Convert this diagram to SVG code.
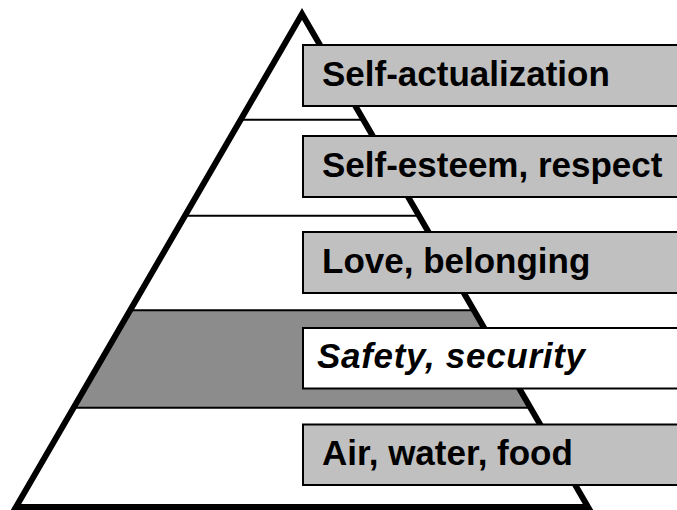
<svg xmlns="http://www.w3.org/2000/svg" width="677" height="510" viewBox="0 0 677 510">
<style>
.bg{fill:#ffffff}
.band{fill:#8c8c8c;stroke:none}
.div{stroke:#000;stroke-width:2;fill:none}
.tri{fill:none;stroke:#000;stroke-width:6;stroke-linejoin:miter;stroke-miterlimit:10}
.box{fill:#c0c0c0;stroke:#000;stroke-width:2}
.box.white{fill:#ffffff}
.lbl{font-family:"Liberation Sans",Arial,sans-serif;font-weight:bold;font-size:35px;fill:#000}
.it{font-style:italic}
</style>
<rect class="bg" x="0" y="0" width="677" height="510"/>
<g id="pyramid">
<polygon class="band" points="130.1,310.3 473.9,310.3 530.4,407.7 73.6,407.7"/>
<line class="div" x1="240.6" y1="119.7" x2="363.4" y2="119.7"/>
<line class="div" x1="185" y1="215.7" x2="419" y2="215.7"/>
<line class="div" x1="130.1" y1="310.3" x2="473.9" y2="310.3"/>
<line class="div" x1="73.6" y1="407.7" x2="530.4" y2="407.7"/>
<polygon class="tri" points="302,14 588,507 16,507"/>
</g>
<g id="connectors"/>
<g id="self-actualization">
<rect class="box" x="303" y="45" width="390" height="61"/>
<text class="lbl" x="322" y="85.5">Self-actualization</text>
</g>
<g id="self-esteem">
<rect class="box" x="303" y="136" width="390" height="61"/>
<text class="lbl" x="322" y="176.5">Self-esteem, respect</text>
</g>
<g id="love">
<rect class="box" x="303" y="232" width="390" height="61"/>
<text class="lbl" x="322" y="272.5">Love, belonging</text>
</g>
<g id="safety">
<rect class="box white" x="303" y="328" width="390" height="60.5"/>
<text class="lbl it" x="317" y="368" textLength="268" lengthAdjust="spacing">Safety, security</text>
</g>
<g id="air">
<rect class="box" x="303" y="424.5" width="390" height="60.5"/>
<text class="lbl" x="322" y="464.7">Air, water, food</text>
</g>
</svg>
